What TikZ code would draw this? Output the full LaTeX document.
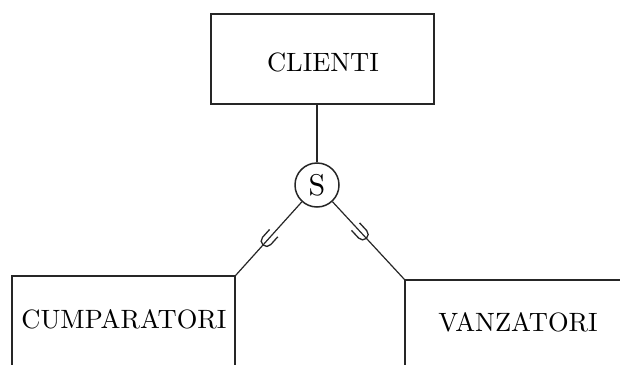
\documentclass[tikz,border=0pt]{standalone}
\usepackage{fontspec}
\setmainfont{lmroman10-regular.otf}
\usetikzlibrary{decorations.markings}

\tikzset{
  entity/.style={draw=black!85, line width=1.7pt, rectangle, inner sep=0pt},
  label text/.style={inner sep=0pt, font=\fontsize{26.5}{30}\selectfont},
  link/.style={draw=black!85, line width=1.2pt},
  disjoint/.style={draw=black!85, line width=1.5pt, circle, minimum size=44pt, inner sep=0pt,
    font=\fontsize{30}{34}\selectfont},
  % subset sign: a U whose round end faces the subclass
  subset at/.style={postaction={decorate, decoration={markings,
    mark=at position #1 with {
      \draw[line width=1.3pt, black!85] (-8,5.5) -- (2.5,5.5) arc (90:-90:5.5) -- (-8,-5.5);
    }}}}
}

\begin{document}
\begin{tikzpicture}[x=1pt, y=-1pt]
  \useasboundingbox (0,0) rectangle (620,364);

  % superclass
  \node[entity, minimum width=223pt, minimum height=90pt] (clienti) at (322.5,59) {};
  \node[label text] (clientiT) at (323,62) {CLIENTI};

  % subclasses (they run past the lower and right edges)
  \node[entity, minimum width=223pt, minimum height=130pt] (cump) at (123.5,341) {};
  \node[label text] (cumpT) at (124,319) {CUMPARATORI};
  \node[entity, minimum width=300pt, minimum height=130pt] (vanz) at (555,345) {};
  \node[label text] (vanzT) at (518,322) {VANZATORI};

  % specialization circle
  \node[disjoint] (s) at (317,185) {S};

  % connectors
  \draw[link] (s) -- (s |- clienti.south);
  \draw[link, subset at=50pt] (s) -- (cump.north east);
  \draw[link, subset at=42pt] (s) -- (vanz.north west);
\end{tikzpicture}
\end{document}
